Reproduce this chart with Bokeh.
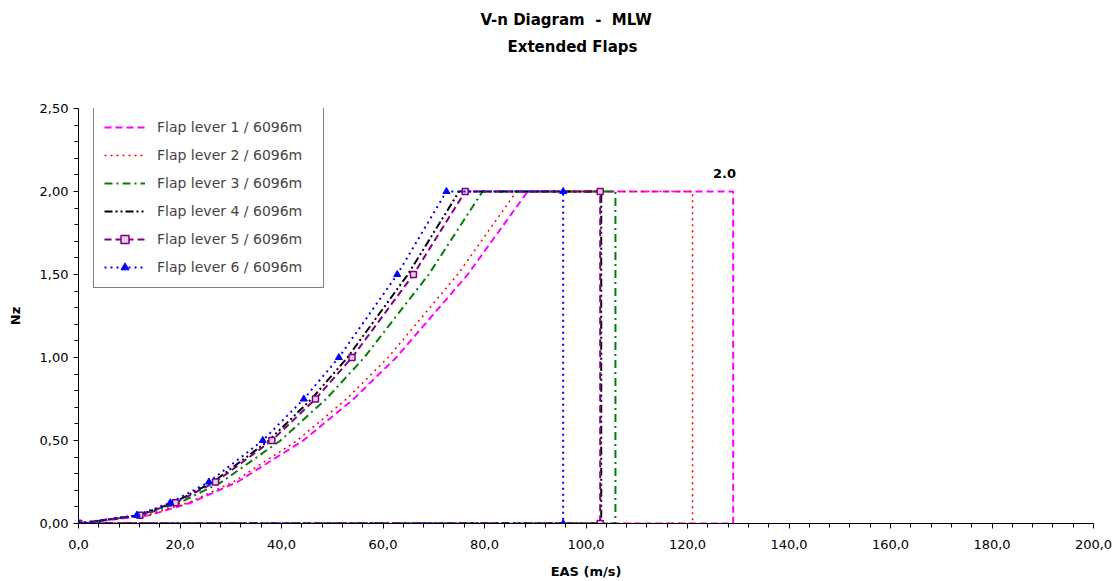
from bokeh.plotting import figure
from bokeh.models import Range1d, FixedTicker, Legend, LegendItem, CustomJSTickFormatter, Title
from bokeh.core.properties import value
from bokeh.embed import file_html
from bokeh.resources import INLINE

# ---------------- data ----------------
title_lines = ["V-n Diagram \u00a0- \u00a0MLW", "Extended Flaps"]
series_names = ["Flap lever 1 / 6096m", "Flap lever 2 / 6096m", "Flap lever 3 / 6096m",
                "Flap lever 4 / 6096m", "Flap lever 5 / 6096m", "Flap lever 6 / 6096m"]

# load factor at each point of every envelope (curve up, plateau, drop, return)
nz_pts = [0.0, 0.05, 0.125, 0.25, 0.5, 0.75, 1.0, 1.5, 2.0, 2.0, 0.0, 0.0]

eas_flap1 = [0.0, 14.0, 22.1, 31.3, 44.3, 54.2, 62.6, 76.7, 88.5, 129.0, 129.0, 0.0]
eas_flap2 = [0.0, 13.6, 21.6, 30.5, 43.1, 52.8, 61.0, 74.7, 86.3, 121.0, 121.0, 0.0]
eas_flap3 = [0.0, 12.6, 19.9, 28.2, 39.8, 48.8, 56.3, 69.0, 79.6, 105.8, 105.8, 0.0]
eas_flap4 = [0.0, 11.9, 18.7, 26.5, 37.5, 45.9, 53.0, 64.9, 75.0, 103.0, 103.0, 0.0]
eas_flap5 = [0.0, 12.1, 19.1, 27.0, 38.1, 46.7, 53.9, 66.0, 76.2, 102.8, 102.8, 0.0]
eas_flap6 = [0.0, 11.5, 18.1, 25.7, 36.3, 44.4, 51.3, 62.8, 72.5, 95.5, 95.5, 0.0]

label_x = [127.3]
label_y = [2.11]
label_text = ["2.0"]

x_ticks = [0, 20, 40, 60, 80, 100, 120, 140, 160, 180, 200]
y_ticks = [0.0, 0.5, 1.0, 1.5, 2.0, 2.5]

# ---------------- styles ----------------
colors = ["#FF00FF", "#FF0000", "#008000", "#000000", "#800080", "#0000FF"]
dashes = ["7 4", "2 4", "8 4 2 4", "8 3 2 3 2 3", "7 4", "2 4"]
widths = [2, 1.5, 2, 2, 2, 2]
FONT = "DejaVu Sans"

p = figure(width=1115, height=581, output_backend="svg", toolbar_location=None,
           title_location=None,
           x_range=Range1d(0, 200), y_range=Range1d(0, 2.5),
           min_border_left=78, min_border_right=22, min_border_top=108, min_border_bottom=58)
p.outline_line_color = None
p.xgrid.grid_line_color = None
p.ygrid.grid_line_color = None
p.background_fill_color = "white"

all_eas = [eas_flap1, eas_flap2, eas_flap3, eas_flap4, eas_flap5, eas_flap6]
items = []
for i, eas in enumerate(all_eas):
    r = p.line(eas, nz_pts, line_color=colors[i], line_dash=dashes[i], line_width=widths[i])
    rs = [r]
    if i == 4:
        m = p.scatter(eas, nz_pts, marker="square", size=6, line_color=colors[i],
                      fill_color="#E8D0E8", line_width=1.5)
        rs.append(m)
    if i == 5:
        m = p.scatter(eas, nz_pts, marker="triangle", size=7, line_color=colors[i],
                      fill_color=colors[i])
        rs.append(m)
    items.append(LegendItem(label=series_names[i], renderers=rs))

p.text(x=label_x, y=label_y, text=label_text, text_font=value(FONT), text_font_style="bold",
       text_font_size="13px", text_align="center", text_baseline="middle", text_color="black")

# titles: a thin spacer next to the frame, then the two title lines
p.add_layout(Title(text="\u00a0", standoff=50, text_font_size="1px"), "above")
p.add_layout(Title(text=title_lines[1], align="left", offset=429, standoff=0,
                   text_font=FONT, text_font_size="15px", text_font_style="bold",
                   text_color="black"), "above")
p.add_layout(Title(text=title_lines[0], align="left", offset=402, standoff=14,
                   text_font=FONT, text_font_size="15px", text_font_style="bold",
                   text_color="black"), "above")

legend = Legend(items=items, location=(15, 235), padding=10, spacing=8,
                label_height=20, glyph_height=20, glyph_width=41, label_standoff=12,
                label_width=156, label_text_font=FONT, label_text_font_size="14px",
                border_line_color="black", border_line_width=1, background_fill_alpha=1,
                margin=0)
p.add_layout(legend, "center")

# axes
xa = p.xaxis[0]
xa.ticker = FixedTicker(ticks=x_ticks, minor_ticks=list(range(0, 201, 4)))
xa.formatter = CustomJSTickFormatter(code="return tick.toFixed(1).replace('.', ',');")
xa.axis_label = "EAS (m/s)"
ya = p.yaxis[0]
ya.ticker = FixedTicker(ticks=y_ticks, minor_ticks=[k / 10 for k in range(0, 26)])
ya.formatter = CustomJSTickFormatter(code="return tick.toFixed(2).replace('.', ',');")
ya.axis_label = "Nz"
for ax in (xa, ya):
    ax.axis_line_color = "black"
    ax.major_tick_line_color = "black"
    ax.minor_tick_line_color = "black"
    ax.major_tick_in = 0
    ax.major_tick_out = 5
    ax.minor_tick_in = 0
    ax.minor_tick_out = 4
    ax.major_label_text_font = FONT
    ax.major_label_text_font_size = "13px"
    ax.major_label_text_color = "black"
    ax.axis_label_text_font = FONT
    ax.axis_label_text_font_size = "13px"
    ax.axis_label_text_font_style = "bold"
    ax.axis_label_text_color = "black"
xa.major_label_standoff = 11
xa.axis_label_standoff = 12
ya.major_label_standoff = 5
ya.axis_label_standoff = 14

open("out.html", "w").write(file_html(p, INLINE))
